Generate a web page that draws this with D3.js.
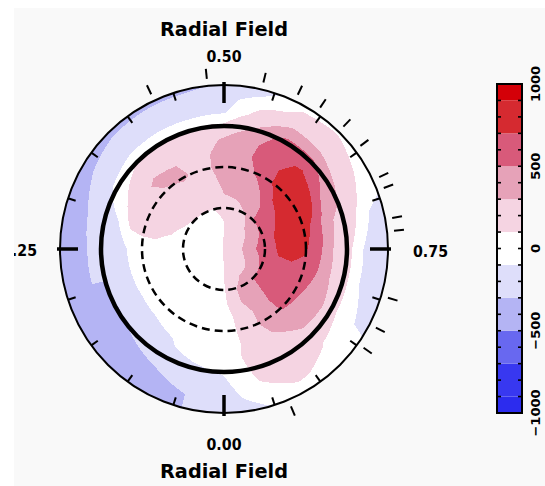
<!DOCTYPE html>
<html>
<head>
<meta charset="utf-8">
<script src="https://cdn.jsdelivr.net/npm/d3@7"></script>
<style>
  body { margin: 0; background: #ffffff; }
  text { font-family: "DejaVu Sans", "Liberation Sans", sans-serif; font-weight: bold; fill: #000; }
</style>
</head>
<body>
<svg id="chart" width="545" height="486"></svg>
<script>
// ---- data -------------------------------------------------------------
// Rotation phases of the map columns and latitudes (deg) of the map rows
const phases = [0, 1/24, 2/24, 3/24, 4/24, 5/24, 6/24, 7/24, 8/24, 9/24, 10/24, 11/24,
                12/24, 13/24, 14/24, 15/24, 16/24, 17/24, 18/24, 19/24, 20/24, 21/24, 22/24, 23/24];
const latitudes = [-30, -20, -10, 0, 10, 20, 30, 40, 50, 60, 70, 80, 90];

// Radial magnetic field (G), one array per latitude, one value per phase
const field_lat_m30 = [-220,-300,-400,-420,-450,-460,-450,-430,-400,-380,-350,-330,-290,-200,  60,  80,   0,-150,-200,-180,-110, -50,   0,-130];
const field_lat_m20 = [-220,-300,-380,-400,-430,-440,-440,-420,-290,-200,-200,-220,-180,  20, 150, 180, 100,-100,-180,-170,-100,  60, 120,  30];
const field_lat_m10 = [-150,-250,-300,-340,-350,-300,-300,-250,-200,-170,-150,-150,-120, 200, 330, 300, 200, 100, -80, -80, -20, 110, 150, 100];
const field_lat_00  = [ -80,-150,-200,-280,-320,-300,-220,-200, -50, 100, 120, 130, 150, 320, 580, 560, 350, 250, 200, 200, 200, 220, 200, 150];
const field_lat_10  = [  20, -30,-120,-180,-220,-200,-180,-100, 120, 180, 180, 180, 330, 450, 650, 720, 520, 320, 300, 300, 350, 320, 200, 150];
const field_lat_20  = [   0, -20, -80,-100,-110,-100, -90, 150, 180, 350, 300, 220, 400, 480, 650, 800, 800, 600, 550, 500, 450, 400, 300, 150];
const field_lat_30  = [  30, -10, -20, -20, -20,   0,  30, 150, 200, 280, 330, 230, 400, 420, 600, 850, 880, 800, 720, 650, 550, 520, 380, 150];
const field_lat_40  = [  50,   0,   0,   0,   0,  20,  40, 150, 200, 220, 220, 200, 350, 380, 480, 700, 800, 800, 750, 680, 550, 540, 380, 150];
const field_lat_50  = [  50,   0,   0,   0,   0,   0,  20, 100, 150, 180, 180, 180, 300, 350, 380, 550, 650, 740, 720, 680, 550, 520, 380, 280];
const field_lat_60  = [  80,  20,   0,   0,   0,   0,   0,  60,  80, 100, 100, 100, 100, 180, 300, 500, 520, 580, 600, 560, 520, 500, 380, 280];
const field_lat_70  = [ 100,  50,  20,   0,   0,   0,   0,   0,  20,  30,  50,  70, 100, 150, 200, 280, 330, 380, 450, 380, 330, 280, 280, 180];
const field_lat_80  = [ 100,  80,  50,  30,  20,  20,  20,  20,  30,  40,  60,  80, 100, 130, 160, 190, 210, 230, 240, 230, 210, 190, 160, 130];
const field_lat_90  = [ 110, 110, 110, 110, 110, 110, 110, 110, 110, 110, 110, 110, 110, 110, 110, 110, 110, 110, 110, 110, 110, 110, 110, 110];

// Phases at which the spectra were taken
const obsPhases = [0.430, 0.484, 0.537, 0.571, 0.595, 0.623, 0.647, 0.681, 0.692,
                   0.721, 0.733, 0.796, 0.826, 0.848, 0.936];

// Contour levels (G) and the colour of each band between them
const levels = [-900, -700, -500, -300, -100, 100, 300, 500, 700, 900];
const bandColors = ["#2c2cee", "#3838f0", "#6868f0", "#b4b4f4", "#dedefa", "#ffffff",
                    "#f5d4e2", "#e6a2b8", "#d85a7a", "#d52a30", "#d40008"];

// Labels
const barLabels = [1000, 500, 0, -500, -1000];
const phaseLabels = [
  { p: 0.00, text: "0.00" }, { p: 0.25, text: "0.25" },
  { p: 0.50, text: "0.50" }, { p: 0.75, text: "0.75" }
];
const titleText = "Radial Field";

// ---- layout -----------------------------------------------------------
const W = 545, H = 486;
const cx = 224, cy = 249, R = 164;
const svg = d3.select("#chart");

svg.append("rect").attr("width", W).attr("height", H).attr("fill", "#ffffff");
svg.append("rect").attr("x", 14).attr("y", 8).attr("width", W - 14).attr("height", H - 8)
   .attr("fill", "#f9f9f9");

const defs = svg.append("defs");
defs.append("clipPath").attr("id", "disk")
    .append("circle").attr("cx", cx).attr("cy", cy).attr("r", R);
defs.append("clipPath").attr("id", "panel")
    .append("rect").attr("x", 14).attr("y", 8).attr("width", W - 14).attr("height", H - 8);

// Polar projection: colatitude -> radius, phase -> angle (0 at the bottom, clockwise)
const rScale = d3.scaleLinear().domain([90, -30]).range([0, R]);
const angle = d3.scaleLinear().domain([0, 1]).range([0, 2 * Math.PI]);
function polar(p, lat, dr = 0) {
  const r = rScale(lat) + dr, a = angle(p);
  return [cx - r * Math.sin(a), cy + r * Math.cos(a)];
}

// ---- contour map ------------------------------------------------------
const rows = [field_lat_m30, field_lat_m20, field_lat_m10, field_lat_00, field_lat_10,
              field_lat_20, field_lat_30, field_lat_40, field_lat_50, field_lat_60,
              field_lat_70, field_lat_80, field_lat_90];
const nCols = phases.length;
const nx = nCols + 1, ny = latitudes.length;
const values = [];
rows.forEach(row => { values.push(...row, row[0]); }); // repeat phase 0 as phase 1

const color = d3.scaleThreshold().domain(levels).range(bandColors);
const bands = d3.contours().size([nx, ny]).thresholds(levels)(values);

const colToPhase = d3.scaleLinear().domain([0, nCols]).range([0, 1]).clamp(true);
const rowToLat = d3.scaleLinear().domain([0, ny - 1])
                   .range([latitudes[0], latitudes[ny - 1]]).clamp(true);
function gridToScreen(gx, gy) {
  return polar(colToPhase(gx - 0.5), rowToLat(gy - 0.5));
}
function ringPath(ring) {
  let d = "";
  for (let i = 0; i < ring.length - 1; i++) {
    const a = ring[i], b = ring[i + 1];
    const n = Math.max(1, Math.ceil(Math.hypot(b[0] - a[0], b[1] - a[1]) / 0.1));
    for (let s = 0; s < n; s++) {
      const t = s / n;
      const pt = gridToScreen(a[0] + (b[0] - a[0]) * t, a[1] + (b[1] - a[1]) * t);
      d += (d ? "L" : "M") + pt[0].toFixed(2) + "," + pt[1].toFixed(2);
    }
  }
  return d + "Z";
}
function bandPath(geom) {
  return geom.coordinates.map(poly => poly.map(ringPath).join("")).join("");
}

const map = svg.append("g").attr("clip-path", "url(#disk)");
map.append("circle").attr("cx", cx).attr("cy", cy).attr("r", R).attr("fill", bandColors[0]);
map.selectAll("path.band").data(bands).join("path")
   .attr("class", "band")
   .attr("d", bandPath)
   .attr("fill", d => color(d.value))
   .attr("fill-rule", "evenodd")
   .attr("shape-rendering", "crispEdges");

// ---- latitude circles -------------------------------------------------
svg.append("circle").attr("cx", cx).attr("cy", cy).attr("r", rScale(60))
   .attr("fill", "none").attr("stroke", "#000").attr("stroke-width", 2.5)
   .attr("stroke-dasharray", "8,5");
svg.append("circle").attr("cx", cx).attr("cy", cy).attr("r", rScale(30))
   .attr("fill", "none").attr("stroke", "#000").attr("stroke-width", 2.5)
   .attr("stroke-dasharray", "8,5");
svg.append("circle").attr("cx", cx).attr("cy", cy).attr("r", rScale(0))
   .attr("fill", "none").attr("stroke", "#000").attr("stroke-width", 4.5);
svg.append("circle").attr("cx", cx).attr("cy", cy).attr("r", rScale(-30))
   .attr("fill", "none").attr("stroke", "#000").attr("stroke-width", 2);

// ---- phase ticks on the rim -------------------------------------------
const rimTicks = angle.copy().domain([0, 1]).ticks(20).filter(p => p < 1);
const isMajor = p => Math.abs(p * 4 - Math.round(p * 4)) < 1e-6;
svg.append("g").selectAll("line").data(rimTicks).join("line")
   .each(function (p) {
     const major = isMajor(p);
     const a = polar(p, -30, major ? 3 : 0), b = polar(p, -30, major ? -18 : -8);
     d3.select(this).attr("x1", a[0]).attr("y1", a[1]).attr("x2", b[0]).attr("y2", b[1])
       .attr("stroke", "#000").attr("stroke-width", major ? 3.5 : 2);
   });

// Observation phases, outside the rim
svg.append("g").selectAll("line").data(obsPhases).join("line")
   .each(function (p) {
     const a = polar(p, -30, 7), b = polar(p, -30, 17);
     d3.select(this).attr("x1", a[0]).attr("y1", a[1]).attr("x2", b[0]).attr("y2", b[1])
       .attr("stroke", "#000").attr("stroke-width", 2);
   });

// ---- labels -----------------------------------------------------------
const labels = svg.append("g").attr("clip-path", "url(#panel)");
labels.append("text").attr("x", 224).attr("y", 36).attr("text-anchor", "middle")
      .attr("font-size", 20).attr("textLength", 128).attr("lengthAdjust", "spacingAndGlyphs")
      .text(titleText);
labels.append("text").attr("x", 224).attr("y", 478).attr("text-anchor", "middle")
      .attr("font-size", 20).attr("textLength", 128).attr("lengthAdjust", "spacingAndGlyphs")
      .text(titleText);

const labelPos = {
  "0.00": { x: 224, y: 450, anchor: "middle" },
  "0.25": { x: 37,  y: 256, anchor: "end" },
  "0.50": { x: 224, y: 62,  anchor: "middle" },
  "0.75": { x: 413, y: 257, anchor: "start" }
};
labels.selectAll("text.phase").data(phaseLabels).join("text")
      .attr("class", "phase")
      .attr("x", d => labelPos[d.text].x).attr("y", d => labelPos[d.text].y)
      .attr("text-anchor", d => labelPos[d.text].anchor)
      .attr("font-size", 15).attr("textLength", 35).attr("lengthAdjust", "spacingAndGlyphs")
      .text(d => d.text);

// ---- colour bar -------------------------------------------------------
const cbX = 497, cbW = 25;
const cbScale = d3.scaleLinear().domain([-1000, 1000]).range([413, 84]);
const edges = [-1000, ...levels, 1000];
const cb = svg.append("g");
cb.selectAll("rect.band").data(bandColors).join("rect")
  .attr("class", "band")
  .attr("x", cbX).attr("width", cbW)
  .attr("y", (c, i) => cbScale(edges[i + 1]))
  .attr("height", (c, i) => cbScale(edges[i]) - cbScale(edges[i + 1]))
  .attr("fill", c => c);
const cbTicks = cbScale.ticks(20).filter(v => v > -1000 && v < 1000);
cb.selectAll("line.l").data(cbTicks).join("line").attr("class", "l")
  .attr("x1", cbX).attr("x2", cbX + 4).attr("y1", v => cbScale(v)).attr("y2", v => cbScale(v))
  .attr("stroke", "#000").attr("stroke-width", 1.6);
cb.selectAll("line.r").data(cbTicks).join("line").attr("class", "r")
  .attr("x1", cbX + cbW).attr("x2", cbX + cbW - 4).attr("y1", v => cbScale(v)).attr("y2", v => cbScale(v))
  .attr("stroke", "#000").attr("stroke-width", 1.6);
cb.append("rect").attr("x", cbX).attr("y", cbScale(1000)).attr("width", cbW)
  .attr("height", cbScale(-1000) - cbScale(1000))
  .attr("fill", "none").attr("stroke", "#000").attr("stroke-width", 2);
cb.selectAll("text").data(barLabels).join("text")
  .attr("transform", v => `translate(540,${cbScale(v)}) rotate(-90)`)
  .attr("text-anchor", "middle").attr("font-size", 13)
  .text(v => v < 0 ? "\u2212" + Math.abs(v) : String(v));
</script>
</body>
</html>
